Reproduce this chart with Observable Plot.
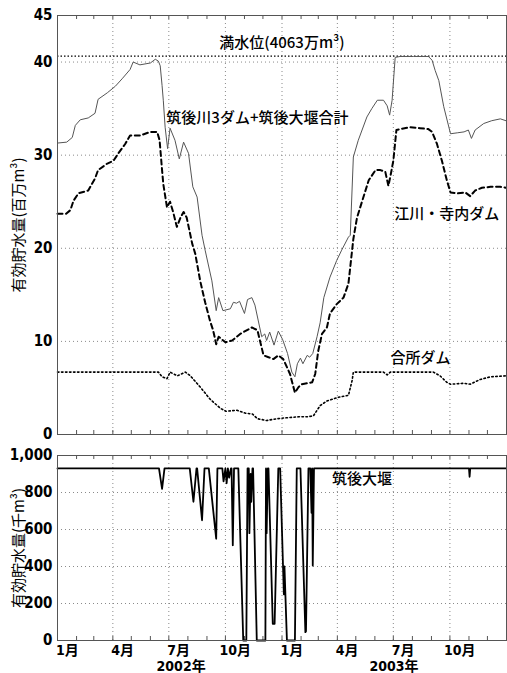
<!DOCTYPE html>
<html><head><meta charset="utf-8">
<script src="https://cdn.jsdelivr.net/npm/d3@7"></script>
<script src="https://cdn.jsdelivr.net/npm/@observablehq/plot@0.6"></script>
<style>
body{margin:0;background:#fff;}
#wrap{position:relative;width:507px;height:673px;overflow:hidden;background:#fff;}
#wrap svg{position:absolute;left:0;display:block;overflow:visible !important;background:transparent !important;}
</style></head><body><div id="wrap"></div>
<script>
// ---- data ----
const fullLevel = 40.63; // 満水位 (4063万m³)

const totalSeries = [["2002-01-01",31.3],["2002-01-16",31.4],["2002-01-25",31.9],["2002-01-30",33.2],["2002-02-07",33.8],["2002-02-20",34.0],["2002-03-03",34.5],["2002-03-08",36.0],["2002-03-23",36.7],["2002-04-05",37.4],["2002-04-16",38.2],["2002-04-29",39.2],["2002-05-04",40.0],["2002-05-15",39.7],["2002-06-01",39.9],["2002-06-09",40.3],["2002-06-14",40.1],["2002-06-17",39.6],["2002-06-20",37.5],["2002-06-22",35.9],["2002-06-25",33.0],["2002-06-29",30.7],["2002-07-03",32.9],["2002-07-11",31.6],["2002-07-18",29.6],["2002-07-25",31.4],["2002-08-02",30.2],["2002-08-09",26.6],["2002-08-16",25.5],["2002-08-24",21.4],["2002-08-29",19.8],["2002-09-09",16.5],["2002-09-16",13.3],["2002-09-20",14.7],["2002-09-27",13.3],["2002-10-09",13.5],["2002-10-14",14.2],["2002-10-19",14.1],["2002-10-24",14.3],["2002-11-01",13.0],["2002-11-06",14.5],["2002-11-13",14.7],["2002-11-18",13.9],["2002-11-29",10.5],["2002-12-04",10.8],["2002-12-07",10.1],["2002-12-12",11.0],["2002-12-19",9.6],["2002-12-26",11.1],["2003-01-02",10.2],["2003-01-10",8.7],["2003-01-17",6.7],["2003-01-22",6.2],["2003-01-26",7.6],["2003-01-31",8.2],["2003-02-04",7.6],["2003-02-11",8.5],["2003-02-15",8.3],["2003-02-20",8.7],["2003-02-27",10.5],["2003-03-04",12.0],["2003-03-10",14.7],["2003-03-20",16.9],["2003-03-31",18.7],["2003-04-08",19.8],["2003-04-19",21.2],["2003-04-22",21.4],["2003-04-27",29.8],["2003-05-05",31.6],["2003-05-19",34.1],["2003-05-27",35.0],["2003-06-05",35.9],["2003-06-15",35.9],["2003-06-21",35.3],["2003-06-25",34.3],["2003-06-29",35.9],["2003-07-04",40.5],["2003-07-12",40.6],["2003-08-03",40.6],["2003-08-27",40.6],["2003-09-02",40.2],["2003-09-07",39.1],["2003-09-13",38.0],["2003-09-21",35.2],["2003-10-02",32.3],["2003-10-13",32.4],["2003-10-24",32.5],["2003-10-31",32.7],["2003-11-05",31.8],["2003-11-11",32.7],["2003-11-25",33.4],["2003-12-08",33.7],["2003-12-22",33.9],["2003-12-31",33.7]];

const egawaTerauchiSeries = [["2002-01-01",23.7],["2002-01-15",23.7],["2002-01-22",24.1],["2002-01-27",25.1],["2002-02-04",25.9],["2002-02-20",26.2],["2002-03-03",27.5],["2002-03-08",28.4],["2002-03-23",29.1],["2002-04-02",29.4],["2002-04-10",30.2],["2002-04-21",31.2],["2002-04-29",32.1],["2002-05-15",32.1],["2002-06-01",32.5],["2002-06-12",32.5],["2002-06-16",31.6],["2002-06-20",28.4],["2002-06-22",26.9],["2002-06-28",24.4],["2002-07-03",25.0],["2002-07-08",23.9],["2002-07-14",22.3],["2002-07-20",23.3],["2002-07-25",23.9],["2002-07-30",23.3],["2002-08-08",20.5],["2002-08-13",19.4],["2002-08-21",16.5],["2002-08-29",14.2],["2002-09-06",12.2],["2002-09-11",11.2],["2002-09-16",9.7],["2002-09-20",10.5],["2002-10-01",9.9],["2002-10-12",10.1],["2002-10-25",10.8],["2002-11-13",11.5],["2002-11-22",11.2],["2002-12-02",8.5],["2002-12-10",8.3],["2002-12-18",8.1],["2002-12-26",8.5],["2003-01-03",8.1],["2003-01-14",6.5],["2003-01-22",4.5],["2003-01-28",5.1],["2003-02-02",5.4],["2003-02-19",5.6],["2003-02-24",6.5],["2003-03-01",9.0],["2003-03-07",10.8],["2003-03-15",11.5],["2003-03-20",13.0],["2003-03-31",14.0],["2003-04-11",14.7],["2003-04-19",16.2],["2003-04-22",18.0],["2003-04-25",19.8],["2003-04-27",21.0],["2003-05-03",23.3],["2003-05-11",25.0],["2003-05-22",27.3],["2003-06-02",28.4],["2003-06-10",28.4],["2003-06-18",28.2],["2003-06-23",26.7],["2003-06-27",28.0],["2003-07-01",29.4],["2003-07-06",32.7],["2003-07-12",32.8],["2003-07-28",33.0],["2003-08-13",32.9],["2003-08-27",32.8],["2003-09-02",32.5],["2003-09-10",31.2],["2003-09-18",29.4],["2003-09-26",27.3],["2003-10-02",26.0],["2003-10-13",25.9],["2003-10-26",26.0],["2003-11-03",25.6],["2003-11-11",26.2],["2003-11-22",26.5],["2003-12-06",26.6],["2003-12-22",26.6],["2003-12-31",26.5]];

const aishoSeries = [["2002-01-01",6.7],["2002-06-14",6.7],["2002-06-20",6.2],["2002-06-28",6.0],["2002-07-03",6.7],["2002-07-15",6.3],["2002-07-28",6.7],["2002-08-05",6.3],["2002-08-21",5.1],["2002-09-06",3.8],["2002-09-23",2.8],["2002-10-02",2.5],["2002-10-20",2.6],["2002-11-02",2.3],["2002-11-14",2.2],["2002-11-22",1.7],["2002-12-07",1.5],["2002-12-24",1.7],["2003-01-09",1.8],["2003-01-28",1.9],["2003-02-11",1.9],["2003-02-21",2.0],["2003-03-04",3.1],["2003-03-15",3.6],["2003-04-03",4.0],["2003-04-19",4.2],["2003-04-25",5.8],["2003-04-27",6.7],["2003-06-15",6.7],["2003-06-21",6.4],["2003-06-26",6.7],["2003-09-04",6.7],["2003-09-15",6.3],["2003-09-26",5.6],["2003-10-02",5.4],["2003-10-24",5.5],["2003-11-03",5.4],["2003-11-19",5.9],["2003-12-06",6.2],["2003-12-31",6.3]];

const chikugoWeirSeries = [["2002-01-01",930],["2002-06-15",930],["2002-06-20",820],["2002-06-24",930],["2002-08-04",930],["2002-08-10",750],["2002-08-15",930],["2002-08-16",930],["2002-08-24",650],["2002-08-28",930],["2002-09-04",930],["2002-09-16",550],["2002-09-18",930],["2002-09-26",930],["2002-09-28",860],["2002-10-01",930],["2002-10-03",850],["2002-10-05",930],["2002-10-07",880],["2002-10-10",930],["2002-10-11",930],["2002-10-13",515],["2002-10-15",930],["2002-10-22",930],["2002-10-30",0],["2002-11-04",0],["2002-11-06",930],["2002-11-08",930],["2002-11-09",580],["2002-11-11",900],["2002-11-12",750],["2002-11-14",930],["2002-11-15",930],["2002-11-21",0],["2002-12-05",0],["2002-12-06",930],["2002-12-07",580],["2002-12-09",930],["2002-12-10",930],["2002-12-17",90],["2002-12-20",90],["2002-12-26",930],["2002-12-29",930],["2003-01-04",250],["2003-01-05",400],["2003-01-09",0],["2003-01-22",0],["2003-01-25",930],["2003-01-31",930],["2003-02-08",45],["2003-02-09",50],["2003-02-13",930],["2003-02-16",930],["2003-02-18",690],["2003-02-19",930],["2003-02-20",405],["2003-02-22",930],["2003-11-01",930],["2003-11-02",885],["2003-11-03",930],["2003-12-31",930]];

const topYTicks = [0, 10, 20, 30, 40, 45];
const topYGrid = [10, 20, 30, 40];
const bottomYTicks = [0, 200, 400, 600, 800, 1000];
const bottomYGrid = [200, 400, 600, 800];
const monthTickLabels = ["1月","4月","7月","10月","1月","4月","7月","10月"];
const monthTickDates = ["2002-01-17","2002-04-17","2002-07-17","2002-10-17","2003-01-17","2003-04-17","2003-07-17","2003-10-17"];
const yearLabels = ["2002年","2003年"];
const yearLabelDates = ["2002-07-21","2003-07-02"];

const topTitle = "有効貯水量(百万m³)";
const bottomTitle = "有効貯水量(千m³)";
const topLabels = [
  {text: "満水位(4063万m³)", date: "2003-01-01", value: 42.0},
  {text: "筑後川3ダム+筑後大堰合計", date: "2002-11-22", value: 34.0},
  {text: "江川・寺内ダム", date: "2003-09-26", value: 23.7},
  {text: "合所ダム", date: "2003-08-14", value: 8.2}
];
const bottomLabels = [{text: "筑後大堰", date: "2003-05-11", value: 870}];

// ---- drawing ----
const parse = d3.utcParse("%Y-%m-%d");
const toRows = arr => arr.map(([d, v]) => ({date: parse(d), value: v}));
const xDomain = [parse("2002-01-01"), parse("2004-01-01")];
const monthStarts = d3.utcMonth.range(xDomain[0], xDomain[1]);
const quarterStarts = monthStarts.filter(d => d.getUTCMonth() % 3 === 0 && d > xDomain[0]);

const jpFont = '"Noto Sans CJK JP", sans-serif';
const numFont = '"Liberation Sans Narrow", "Arial Narrow", "DejaVu Sans Condensed", "Noto Sans CJK JP", sans-serif';
const gridStyle = {stroke: "#8a8a8a", strokeWidth: 1, strokeDasharray: "1,3"};

function panel({height, marginTop, marginBottom, yDomain, yTicks, yGrid, yTitle, marks}) {
  const innerH = height - marginTop - marginBottom;
  const tickLen = (yDomain[1] - yDomain[0]) * 4 / innerH;
  return Plot.plot({
    width: 507, height, marginTop, marginBottom, marginLeft: 57, marginRight: 1,
    style: {fontFamily: jpFont, fontSize: "15px", color: "#000", background: "transparent", overflow: "visible"},
    x: {type: "utc", domain: xDomain, axis: null},
    y: {domain: yDomain, axis: null},
    marks: [
      Plot.ruleY(yGrid, gridStyle),
      Plot.ruleX(quarterStarts, gridStyle),
      Plot.ruleX(monthStarts, {y1: yDomain[0], y2: yDomain[0] + tickLen, stroke: "#555"}),
      Plot.ruleX(monthStarts, {y1: yDomain[1] - tickLen, y2: yDomain[1], stroke: "#555"}),
      Plot.axisY(yTicks, {anchor: "left", tickSize: 0, tickPadding: 5, fontFamily: numFont, fontSize: 15, fontWeight: "bold", label: null}),
      Plot.text([yTitle], {frameAnchor: "left", textAnchor: "middle", lineAnchor: "middle", rotate: -90, dx: -38, fontFamily: jpFont, fontSize: 15}),
      ...marks,
      Plot.frame({stroke: "#555", strokeWidth: 1})
    ]
  });
}

const topChart = panel({
  height: 440, marginTop: 15, marginBottom: 6,
  yDomain: [0, 45], yTicks: topYTicks, yGrid: topYGrid, yTitle: topTitle,
  marks: [
    Plot.ruleY([fullLevel], {stroke: "#000", strokeWidth: 1.3, strokeDasharray: "1.5,2"}),
    Plot.line(toRows(aishoSeries), {x: "date", y: "value", stroke: "#000", strokeWidth: 1.6, strokeDasharray: "1.5,2.5"}),
    Plot.line(toRows(egawaTerauchiSeries), {x: "date", y: "value", stroke: "#000", strokeWidth: 2, strokeDasharray: "5,3.5"}),
    Plot.line(toRows(totalSeries), {x: "date", y: "value", stroke: "#555", strokeWidth: 1}),
    Plot.text(topLabels, {x: d => parse(d.date), y: "value", text: "text", fontSize: 15, fontWeight: 500, fill: "#000"})
  ]
});

const bottomChart = panel({
  height: 233, marginTop: 15, marginBottom: 33,
  yDomain: [0, 1000], yTicks: bottomYTicks, yGrid: bottomYGrid, yTitle: bottomTitle,
  marks: [
    Plot.line(toRows(chikugoWeirSeries), {x: "date", y: "value", stroke: "#000", strokeWidth: 1.8}),
    Plot.text(bottomLabels, {x: d => parse(d.date), y: "value", text: "text", fontSize: 15, fontWeight: 500, fill: "#000"}),
    Plot.text(monthTickLabels, {x: (d, i) => parse(monthTickDates[i]), text: d => d, frameAnchor: "bottom", lineAnchor: "middle", dy: 10, fontFamily: numFont, fontSize: 14, fontWeight: "bold"}),
    Plot.text(yearLabels, {x: (d, i) => parse(yearLabelDates[i]), text: d => d, frameAnchor: "bottom", lineAnchor: "middle", dy: 26, fontFamily: numFont, fontSize: 14, fontWeight: "bold"})
  ]
});

const wrap = document.getElementById("wrap");
topChart.style.top = "0px";
bottomChart.style.top = "440px";
wrap.append(bottomChart, topChart);
</script></body></html>
